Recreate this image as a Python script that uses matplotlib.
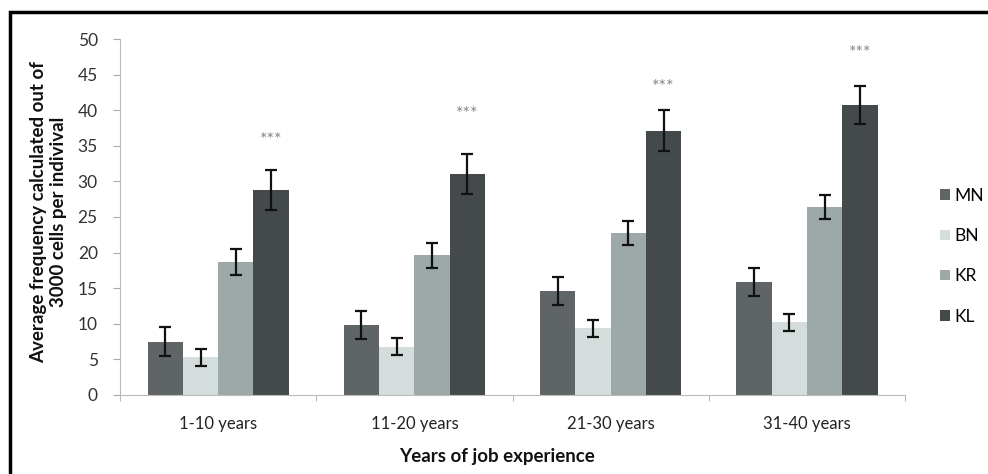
import matplotlib
matplotlib.use("Agg")
import matplotlib.pyplot as plt
import numpy as np
from matplotlib.patches import Rectangle

plt.rcParams['font.family'] = ['Lato', 'DejaVu Sans']

# data
groups = ['1-10 years', '11-20 years', '21-30 years', '31-40 years']
series = ['MN', 'BN', 'KR', 'KL']
mn = [7.5, 9.8, 14.6, 15.9]
bn = [5.3, 6.8, 9.4, 10.2]
kr = [18.7, 19.6, 22.8, 26.4]
kl = [28.8, 31.0, 37.1, 40.7]
mn_err = [2.0, 2.0, 2.0, 2.0]
bn_err = [1.2, 1.2, 1.2, 1.2]
kr_err = [1.8, 1.7, 1.7, 1.7]
kl_err = [2.8, 2.8, 2.9, 2.7]
star_y = [35.8, 39.5, 43.3, 48.0]  # where the *** marks sit

values = [mn, bn, kr, kl]
errors = [mn_err, bn_err, kr_err, kl_err]
colors = ['#5f6566', '#d5dcdc', '#9da8a8', '#444a4b']

fig = plt.figure(figsize=(9.88, 4.74), dpi=100)
ax = fig.add_axes([0.1215, 0.1667, 0.7945, 0.751])

x = np.arange(len(groups))
w = 0.18
for i in range(len(series)):
    pos = x + (i - 1.5) * w
    ax.bar(pos, values[i], w, color=colors[i], label=series[i], zorder=2)
    ax.errorbar(pos, values[i], yerr=errors[i], fmt='none', ecolor='#111111',
                elinewidth=1.6, capsize=4, capthick=1.6, zorder=3)

for j in range(len(groups)):
    ax.text(x[j] + 1.5 * w, star_y[j], '***', ha='center', va='center',
            fontsize=13, color='#888888')

ax.set_xlim(-0.5, 3.5)
ax.set_ylim(0, 50)
ax.set_yticks(np.arange(0, 51, 5))
ax.set_xticks(x)
ax.set_xticklabels(groups)
ax.set_xticks(np.arange(-0.5, 3.6, 1), minor=True)
ax.tick_params(axis='x', which='major', length=0, pad=15, labelsize=12, labelcolor='#222222')
ax.tick_params(axis='x', which='minor', length=4, color='#aaaaaa', direction='out')
ax.tick_params(axis='y', length=5, color='#aaaaaa', pad=11, labelsize=12.5, labelcolor='#333333')

for s in ['top', 'right']:
    ax.spines[s].set_visible(False)
ax.spines['left'].set_color('#bbbbbb')
ax.spines['bottom'].set_color('#bbbbbb')

fig.text(0.049, 0.553, 'Average frequency calculated out of\n3000 cells per indivival',
         rotation=90, ha='center', va='center', multialignment='center',
         fontsize=13.5, fontweight='bold', color='#111111', linespacing=1.2)
fig.text(0.503, 0.036, 'Years of job experience', ha='center', va='center',
         fontsize=13.5, fontweight='bold', color='#111111')

ax.legend(loc='center left', bbox_to_anchor=(1.025, 0.39), frameon=False,
          handlelength=0.55, handleheight=0.55, handletextpad=0.25,
          labelspacing=1.4, fontsize=12.5)

# black frame round the figure (right and bottom edges fall outside the image)
fig.patches.append(Rectangle((10 / 988, -0.1), 1.2, 1 - 12 / 474 + 0.1,
                             transform=fig.transFigure, fill=False,
                             edgecolor='black', linewidth=2.5))

fig.savefig('out.png', dpi=100)
